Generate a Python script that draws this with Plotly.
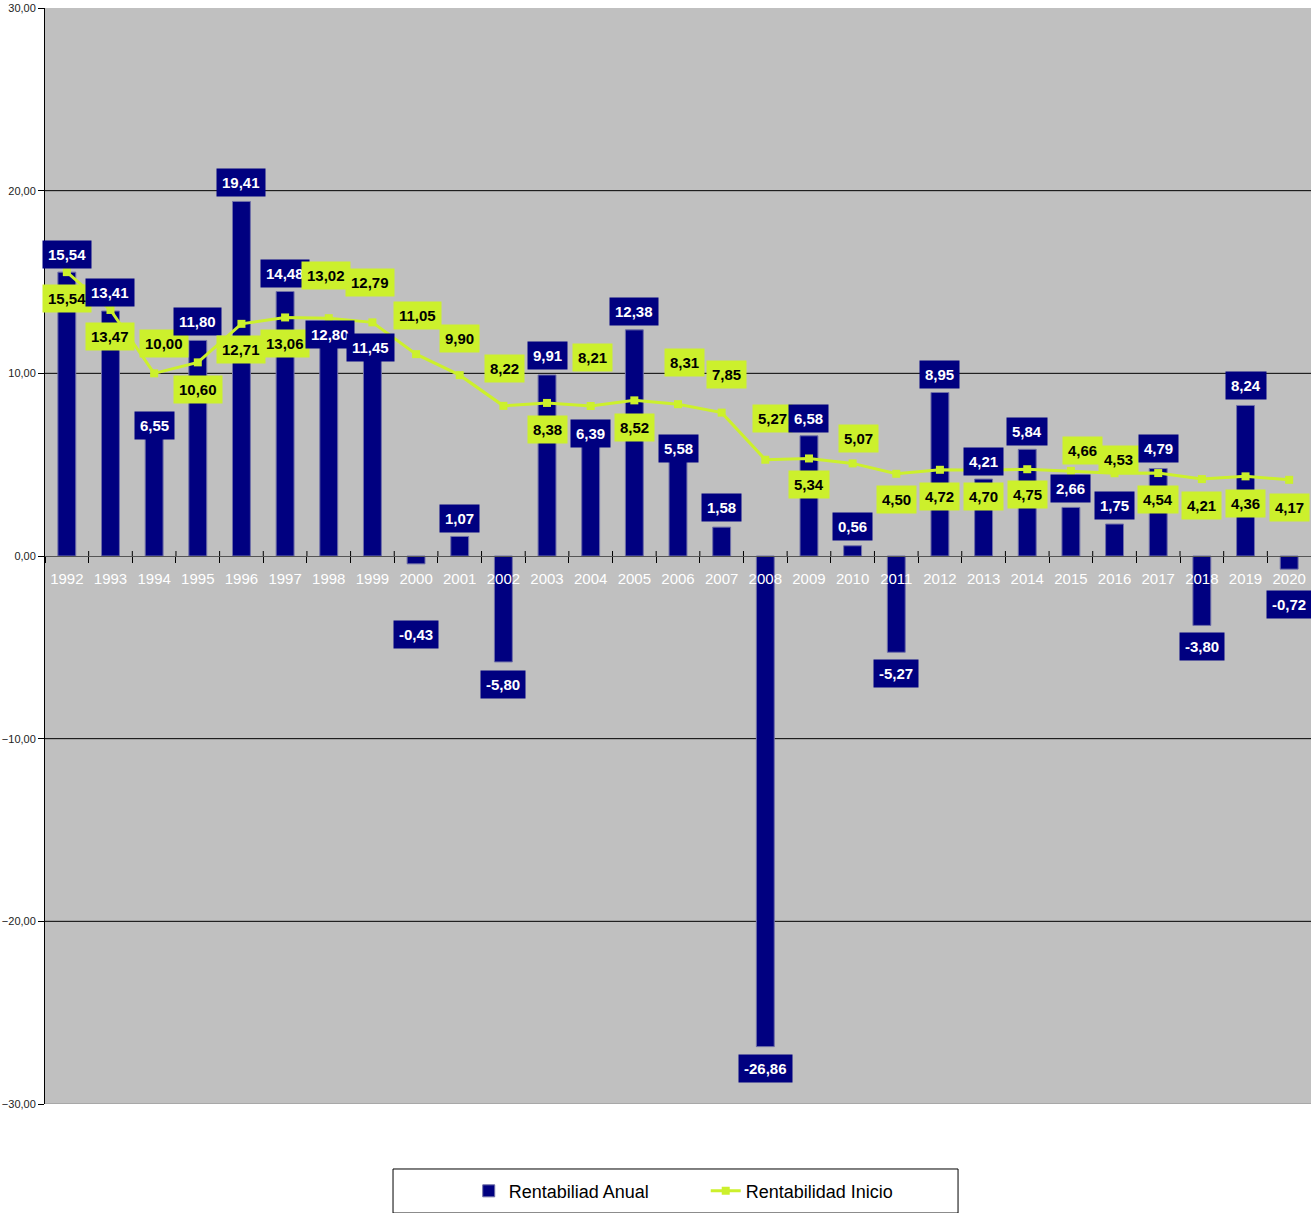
import plotly.graph_objects as go

# ---------------- data ----------------
years = [str(y) for y in range(1992, 2021)]
rent_anual = [15.54, 13.41, 6.55, 11.80, 19.41, 14.48, 12.80, 11.45, -0.43, 1.07,
              -5.80, 9.91, 6.39, 12.38, 5.58, 1.58, -26.86, 6.58, 0.56, -5.27,
              8.95, 4.21, 5.84, 2.66, 1.75, 4.79, -3.80, 8.24, -0.72]
rent_inicio = [15.54, 13.47, 10.00, 10.60, 12.71, 13.06, 13.02, 12.79, 11.05, 9.90,
               8.22, 8.38, 8.21, 8.52, 8.31, 7.85, 5.27, 5.34, 5.07, 4.50,
               4.72, 4.70, 4.75, 4.66, 4.53, 4.54, 4.21, 4.36, 4.17]
y_ticks = [-30, -20, -10, 0, 10, 20, 30]

# ---------------- label placement (layout, in axis units / pixels) ----------------
bar_label_y = [16.53, 14.45, 7.12, 12.86, 20.42, 15.49, 12.10, 11.39, -4.27, 2.08,
               -7.01, 10.95, 6.68, 13.41, 5.86, 2.63, -28.03, 7.55, 1.59, -6.41,
               9.96, 5.20, 6.84, 3.67, 2.74, 5.86, -4.93, 9.31, -2.68]
bar_label_dx = [0, 0, 0, 0, 0, 0, 1, -2, 0, 0,
                0, 0, 0, 0, 0, 0, 0, 0, 0, 0,
                0, 0, 0, 0, 0, 0, 0, 0, 0]
line_label_y = [14.12, 11.99, 11.66, 9.14, 11.33, 11.61, 15.38, 14.95, 13.19, 11.93,
                10.24, 6.95, 10.89, 7.06, 10.62, 9.91, 7.55, 3.89, 6.41, 3.12,
                3.28, 3.28, 3.34, 5.75, 5.31, 3.12, 2.74, 2.90, 2.68]
line_label_dx = [0, 0, 10, 0, 0, 0, -3, -2, 1, 0,
                 1, 0, 2, 0, 6, 5, 7, 0, 6, 0,
                 0, 0, 0, 12, 4, 0, 0, 0, 0]

NAVY = "#000080"
GREEN = "#CCF02C"
FONT = "Liberation Sans, Arial, sans-serif"


def fmt(v):
    return f"{v:.2f}".replace(".", ",")


fig = go.Figure()
fig.add_trace(go.Bar(
    x=years, y=rent_anual, name="Rentabiliad Anual",
    marker=dict(color=NAVY, line=dict(color="#7070A8", width=1)),
))
fig.add_trace(go.Scatter(
    x=years, y=rent_inicio, name="Rentabilidad Inicio", mode="lines+markers",
    line=dict(color=GREEN, width=3),
    marker=dict(symbol="square", size=8, color=GREEN),
))

annotations = []
for i in range(len(years)):
    annotations.append(dict(
        x=i, y=bar_label_y[i], xref="x", yref="y",
        text=f"<b>{fmt(rent_anual[i])}</b>", showarrow=False,
        xshift=bar_label_dx[i], bgcolor=NAVY, borderpad=5,
        font=dict(family=FONT, size=15, color="white"),
    ))
    annotations.append(dict(
        x=i, y=line_label_y[i], xref="x", yref="y",
        text=f"<b>{fmt(rent_inicio[i])}</b>", showarrow=False,
        xshift=line_label_dx[i], bgcolor=GREEN, borderpad=5,
        font=dict(family=FONT, size=15, color="black"),
    ))

shapes = []
for g in [-20, -10, 10, 20]:
    shapes.append(dict(type="line", xref="paper", yref="y", x0=0, x1=1, y0=g, y1=g,
                       line=dict(color="black", width=1), layer="below"))
shapes.append(dict(type="line", xref="paper", yref="y", x0=0, x1=1, y0=-30, y1=-30,
                   line=dict(color="#909090", width=1), layer="below"))
# upper half of the category-boundary tick marks crossing the zero line
for i in range(1, len(years)):
    shapes.append(dict(type="line", xref="x", yref="y", x0=i - 0.5, x1=i - 0.5,
                       ysizemode="pixel", yanchor=0, y0=0, y1=5,
                       line=dict(color="black", width=1)))
# legend frame
shapes.append(dict(type="rect", xref="paper", yref="paper",
                   x0=0.2749, x1=0.7212, y0=-0.0995, y1=-0.0593,
                   line=dict(color="black", width=1), fillcolor="white", layer="below"))

fig.update_layout(
    width=1311, height=1213,
    margin=dict(l=45, r=0, t=8, b=109, autoexpand=False),
    paper_bgcolor="white", plot_bgcolor="#C0C0C0",
    separators=",.",
    bargap=0.59,
    showlegend=True,
    legend=dict(orientation="h", x=0.3347, y=-0.0795, xanchor="left", yanchor="middle",
                bgcolor="rgba(0,0,0,0)",
                font=dict(family=FONT, size=18, color="black"),
                entrywidth=192, entrywidthmode="pixels", itemwidth=30),
    xaxis=dict(type="category", range=[-0.5, len(years) - 0.5], anchor="free", position=0.5,
               tickson="boundaries", ticks="outside", ticklen=6, tickcolor="black",
               showgrid=False, showline=True, linecolor="#555555", linewidth=1,
               tickfont=dict(family=FONT, size=15, color="white"),
               ticklabelstandoff=9, automargin=False),
    yaxis=dict(range=[-30, 30], tickvals=y_ticks, tickformat=".2f", ticks="outside",
               ticklen=6, tickcolor="black", showgrid=False, zeroline=False,
               showline=True, linecolor="black", linewidth=1, automargin=False,
               tickfont=dict(family=FONT, size=11, color="#222222")),
    annotations=annotations,
    shapes=shapes,
)

fig.write_html("out.html")
